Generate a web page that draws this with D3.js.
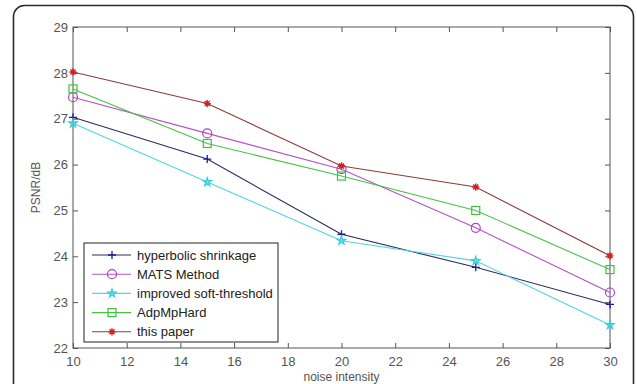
<!DOCTYPE html>
<html>
<head>
<meta charset="utf-8">
<script src="https://cdn.jsdelivr.net/npm/d3@7"></script>
<style>
  body { margin: 0; background: #fff; }
  text { font-family: "Liberation Sans", Arial, sans-serif; }
</style>
</head>
<body>
<div id="chart"></div>
<script>
const noise = [10, 15, 20, 25, 30];
const hyperbolic = [27.03, 26.12, 24.48, 23.76, 22.95];
const mats = [27.47, 26.68, 25.9, 24.62, 23.21];
const improvedSoft = [26.9, 25.62, 24.34, 23.9, 22.5];
const adpMpHard = [27.65, 26.46, 25.75, 25.0, 23.71];
const thisPaper = [28.02, 27.33, 25.97, 25.51, 24.01];
const xTicks = [10, 12, 14, 16, 18, 20, 22, 24, 26, 28, 30];
const yTicks = [22, 23, 24, 25, 26, 27, 28, 29];

const series = [
  { name: "hyperbolic shrinkage", values: hyperbolic, line: "#2b2b5e", mark: "#1a1aa0", symbol: "plus" },
  { name: "MATS Method", values: mats, line: "#b452c4", mark: "#b040c8", symbol: "circle" },
  { name: "improved soft-threshold", values: improvedSoft, line: "#52d6e2", mark: "#30d0e0", symbol: "star" },
  { name: "AdpMpHard", values: adpMpHard, line: "#46c246", mark: "#40c040", symbol: "square" },
  { name: "this paper", values: thisPaper, line: "#8e3c3c", mark: "#d42020", symbol: "asterisk" }
];

const width = 637, height = 384;
const m = { top: 27, right: 27, bottom: 36, left: 73 };
const w = width - m.left - m.right;
const h = height - m.top - m.bottom;

const svg = d3.select("#chart").append("svg")
  .attr("width", width)
  .attr("height", height);

// outer rounded frame
svg.append("rect")
  .attr("x", 13.5).attr("y", 5.5)
  .attr("width", 620).attr("height", 420)
  .attr("rx", 11)
  .attr("fill", "none")
  .attr("stroke", "#2a2a2a")
  .attr("stroke-width", 1.6);

const g = svg.append("g").attr("transform", `translate(${m.left},${m.top})`);

const x = d3.scaleLinear().domain([10, 30]).range([0, w]);
const y = d3.scaleLinear().domain([22, 29]).range([h, 0]);

const axisColor = "#555";
const tickStyle = (sel) => {
  sel.select(".domain").remove();
  sel.selectAll("line").attr("stroke", axisColor);
  sel.selectAll("text").attr("fill", "#555").style("font-size", "13px");
};

// ticks inward on all four sides
g.append("g").attr("transform", `translate(0,${h})`)
  .call(d3.axisBottom(x).tickValues(xTicks).tickSizeInner(-5).tickSizeOuter(0).tickPadding(9).tickFormat(d3.format("d")))
  .call(tickStyle);
g.append("g")
  .call(d3.axisTop(x).tickValues(xTicks).tickSizeInner(-5).tickSizeOuter(0).tickFormat(""))
  .call(tickStyle);
g.append("g")
  .call(d3.axisLeft(y).tickValues(yTicks).tickSizeInner(-5).tickSizeOuter(0).tickPadding(5).tickFormat(d3.format("d")))
  .call(tickStyle);
g.append("g").attr("transform", `translate(${w},0)`)
  .call(d3.axisRight(y).tickValues(yTicks).tickSizeInner(-5).tickSizeOuter(0).tickFormat(""))
  .call(tickStyle);

g.append("rect")
  .attr("width", w).attr("height", h)
  .attr("fill", "none")
  .attr("stroke", axisColor)
  .attr("stroke-width", 1);

// axis titles
g.append("text")
  .attr("x", w / 2).attr("y", h + 33)
  .attr("text-anchor", "middle")
  .attr("fill", "#555")
  .style("font-size", "12px")
  .text("noise intensity");
g.append("text")
  .attr("transform", "rotate(-90)")
  .attr("x", -h / 2).attr("y", -33)
  .attr("text-anchor", "middle")
  .attr("fill", "#555")
  .style("font-size", "12px")
  .text("PSNR/dB");

function drawMarker(sel, symbol, color) {
  const s = 4;
  if (symbol === "plus") {
    sel.append("path").attr("d", `M${-s},0H${s}M0,${-s}V${s}`)
      .attr("stroke", color).attr("stroke-width", 1.3).attr("fill", "none");
  } else if (symbol === "circle") {
    sel.append("circle").attr("r", 4.5)
      .attr("stroke", color).attr("stroke-width", 1.2).attr("fill", "none");
  } else if (symbol === "square") {
    sel.append("rect").attr("x", -4).attr("y", -4).attr("width", 8).attr("height", 8)
      .attr("stroke", color).attr("stroke-width", 1.2).attr("fill", "none");
  } else if (symbol === "star") {
    sel.append("path").attr("d", d3.symbol(d3.symbolStar, 22)())
      .attr("stroke", color).attr("stroke-width", 1.2).attr("fill", color).attr("fill-opacity", 0.5);
  } else if (symbol === "asterisk") {
    const a = 3.6;
    sel.append("path")
      .attr("d", `M${-a},0H${a}M0,${-a}V${a}M${-a * 0.7},${-a * 0.7}L${a * 0.7},${a * 0.7}M${-a * 0.7},${a * 0.7}L${a * 0.7},${-a * 0.7}`)
      .attr("stroke", color).attr("stroke-width", 1.4).attr("fill", "none");
  }
}

const line = d3.line().x((d) => x(d[0])).y((d) => y(d[1]));

series.forEach((s) => {
  const pts = noise.map((n, i) => [n, s.values[i]]);
  g.append("path")
    .datum(pts)
    .attr("d", line)
    .attr("fill", "none")
    .attr("stroke", s.line)
    .attr("stroke-width", 1.1);
  g.selectAll(null)
    .data(pts)
    .enter()
    .append("g")
    .attr("transform", (d) => `translate(${x(d[0])},${y(d[1])})`)
    .each(function () { drawMarker(d3.select(this), s.symbol, s.mark); });
});

// legend
const lg = svg.append("g").attr("transform", "translate(84,243)");
lg.append("rect")
  .attr("width", 194).attr("height", 99)
  .attr("fill", "#fff")
  .attr("stroke", "#222")
  .attr("stroke-width", 1);
series.forEach((s, i) => {
  const row = lg.append("g").attr("transform", `translate(0,${12 + i * 19.2})`);
  row.append("line")
    .attr("x1", 8).attr("x2", 47)
    .attr("stroke", s.line).attr("stroke-width", 1.1);
  const mk = row.append("g").attr("transform", "translate(28,0)");
  drawMarker(mk, s.symbol, s.mark);
  row.append("text")
    .attr("x", 53).attr("y", 4.5)
    .attr("fill", "#222")
    .style("font-size", "13px")
    .text(s.name);
});
</script>
</body>
</html>
